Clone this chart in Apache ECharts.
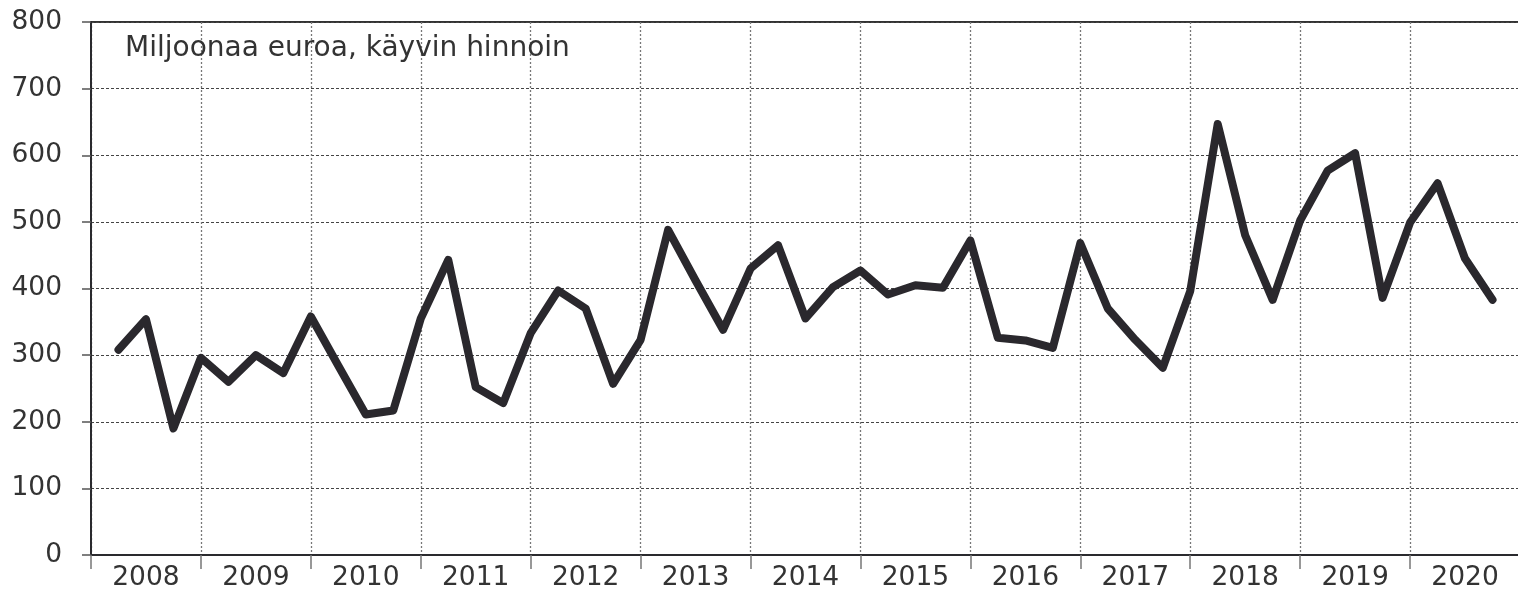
<!DOCTYPE html>
<html>
<head>
<meta charset="utf-8">
<script src="https://cdn.jsdelivr.net/npm/echarts@6/dist/echarts.min.js"></script>
<style>
html,body{margin:0;padding:0;background:#fff;}
#chart{width:1518px;height:591px;}
</style>
</head>
<body>
<div id="chart"></div>
<script>
// Years shown on the x-axis (each year has four quarters)
const years = ['2008','2009','2010','2011','2012','2013','2014','2015','2016','2017','2018','2019','2020'];
// Quarterly values, million euro (2008 Q1 ... 2020 Q3), plotted at quarter ends
const values = [
  308, 354, 190, 296,
  260, 300, 273, 358,
  284, 211, 217, 355,
  443, 252, 228, 333,
  397, 370, 257, 323,
  488, 412, 338, 430,
  465, 355, 402, 427,
  391, 405, 401, 472,
  326, 322, 311, 468,
  370, 323, 281, 396,
  647, 480, 383, 502,
  577, 603, 386, 499,
  558, 445, 383
];
const yTicks = [0, 100, 200, 300, 400, 500, 600, 700, 800];
const titleText = 'Miljoonaa euroa, käyvin hinnoin';

const seriesData = values.map((v, i) => [i + 1, v]);
const font = 'DejaVu Sans, Verdana, sans-serif';

const chart = echarts.init(document.getElementById('chart'));
chart.setOption({
  animation: false,
  backgroundColor: '#fff',
  title: {
    text: titleText,
    left: 120, top: 30,
    textStyle: {fontFamily: font, fontSize: 28, fontWeight: 'normal', color: '#333'}
  },
  grid: {
    left: 91, right: -2, top: 22, bottom: 36,
    outerBoundsMode: 'none',
    show: true, borderColor: '#333', borderWidth: 2, backgroundColor: 'transparent'
  },
  xAxis: [
    {
      type: 'value', min: 0, max: years.length * 4, interval: 4,
      axisLine: {show: false}, axisTick: {show: false}, axisLabel: {show: false},
      splitLine: {show: true, lineStyle: {color: '#777', type: [2, 2], width: 1.3}}
    },
    {
      type: 'category', data: years, position: 'bottom', boundaryGap: true,
      axisLine: {show: true, lineStyle: {color: '#2a2a2e', width: 2}},
      axisTick: {show: true, length: 14, alignWithLabel: false, lineStyle: {color: '#777', width: 1.5}},
      axisLabel: {show: true, margin: 10, fontFamily: font, fontSize: 26.5, color: '#333'},
      splitLine: {show: false}
    }
  ],
  yAxis: {
    type: 'value', min: yTicks[0], max: yTicks[yTicks.length - 1], interval: 100,
    axisLine: {show: true, lineStyle: {color: '#2a2a2e', width: 2}},
    axisTick: {show: true, length: 9, lineStyle: {color: '#555', width: 1.5}},
    axisLabel: {margin: 29, fontFamily: font, fontSize: 26.5, color: '#333'},
    splitLine: {show: true, lineStyle: {color: '#444', type: [3, 2], width: 1.2}}
  },
  series: [{
    type: 'line', xAxisIndex: 0, data: seriesData,
    showSymbol: false, symbol: 'none',
    lineStyle: {color: '#2a282d', width: 8, join: 'round', cap: 'round'},
    z: 5
  }]
});
</script>
</body>
</html>
